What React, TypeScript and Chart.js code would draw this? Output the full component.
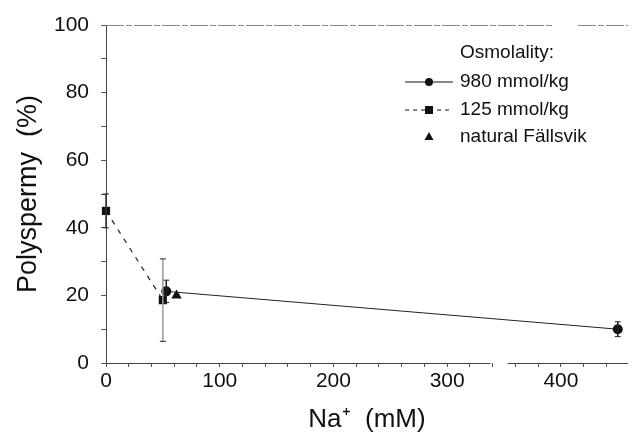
import React, { useEffect, useRef } from "react";
import { Chart, registerables } from "chart.js";

Chart.register(...registerables);

// Data
const naHigh = [53, 450];
const polyHigh = [21.2, 10];
const errHigh = [3.3, 2.2];

const naLow = [0, 50];
const polyLow = [45, 18.6];
const errLow = [5, 12.2];

const naNatural = [62];
const polyNatural = [20];

const xTickLabels = [0, 100, 200, 300, 400];
const yTickLabels = [0, 20, 40, 60, 80, 100];

const legendTitle = "Osmolality:";
const legendLabels = ["980 mmol/kg", "125 mmol/kg", "natural Fällsvik"];

const FONT = "'Liberation Sans', Arial, Helvetica, sans-serif";

const errorBarPlugin = {
  id: "errorBars",
  afterDatasetsDraw(chart: any) {
    const { ctx, scales } = chart;
    const xs = scales.x;
    const ys = scales.y;
    chart.data.datasets.forEach((ds: any) => {
      if (!ds.errors) return;
      ds.data.forEach((p: any, i: number) => {
        const e = ds.errors[i];
        if (!e) return;
        const px = xs.getPixelForValue(p.x);
        const top = ys.getPixelForValue(p.y + e);
        const bot = ys.getPixelForValue(p.y - e);
        ctx.save();
        ctx.strokeStyle = ds.errorColor ? ds.errorColor[i] : "#222";
        ctx.lineWidth = 1.5;
        ctx.beginPath();
        ctx.moveTo(px, top);
        ctx.lineTo(px, bot);
        ctx.stroke();
        ctx.strokeStyle = "#222";
        ctx.lineWidth = 1;
        ctx.beginPath();
        ctx.moveTo(px - 3, top);
        ctx.lineTo(px + 3, top);
        ctx.moveTo(px - 3, bot);
        ctx.lineTo(px + 3, bot);
        ctx.stroke();
        ctx.restore();
      });
    });
  },
};

const framePlugin = {
  id: "frame",
  beforeDatasetsDraw(chart: any) {
    const { ctx, scales, chartArea } = chart;
    const xs = scales.x;
    const ys = scales.y;
    const yAxis = ys.getPixelForValue(0);
    const yTop = ys.getPixelForValue(100);
    ctx.save();
    // top line (y = 100)
    ctx.strokeStyle = "#8a8a8a";
    ctx.lineWidth = 1;
    ctx.setLineDash([18, 2, 6, 2]);
    ctx.beginPath();
    ctx.moveTo(chartArea.left, yTop + 0.5);
    ctx.lineTo(552, yTop + 0.5);
    ctx.moveTo(578, yTop + 0.5);
    ctx.lineTo(chartArea.right, yTop + 0.5);
    ctx.stroke();
    ctx.setLineDash([]);
    // x axis line with break
    ctx.strokeStyle = "#444";
    ctx.beginPath();
    ctx.moveTo(xs.getPixelForValue(0), yAxis + 0.5);
    ctx.lineTo(xs.getPixelForValue(338), yAxis + 0.5);
    ctx.moveTo(xs.getPixelForValue(353), yAxis + 0.5);
    ctx.lineTo(chartArea.right, yAxis + 0.5);
    ctx.stroke();
    ctx.restore();
  },
};

const legendPlugin = {
  id: "customLegend",
  afterDraw(chart: any) {
    const { ctx } = chart;
    ctx.save();
    ctx.fillStyle = "#111";
    ctx.font = `19px ${FONT}`;
    ctx.textBaseline = "middle";
    ctx.textAlign = "left";
    const tx = 460;
    const mx = 429;
    ctx.fillText(legendTitle, tx, 53);
    const rows = [82, 110, 137];
    legendLabels.forEach((l, i) => ctx.fillText(l, tx, rows[i]));
    ctx.strokeStyle = "#111";
    ctx.lineWidth = 1;
    // solid sample
    ctx.beginPath();
    ctx.moveTo(405, rows[0]);
    ctx.lineTo(453, rows[0]);
    ctx.stroke();
    ctx.beginPath();
    ctx.arc(mx, rows[0], 4, 0, Math.PI * 2);
    ctx.fill();
    // dashed sample
    ctx.setLineDash([4, 4]);
    ctx.beginPath();
    ctx.moveTo(405, rows[1]);
    ctx.lineTo(453, rows[1]);
    ctx.stroke();
    ctx.setLineDash([]);
    ctx.fillRect(mx - 4, rows[1] - 4, 8, 8);
    // triangle
    ctx.beginPath();
    ctx.moveTo(mx, rows[2] - 5);
    ctx.lineTo(mx + 4.5, rows[2] + 3);
    ctx.lineTo(mx - 4.5, rows[2] + 3);
    ctx.closePath();
    ctx.fill();
    ctx.restore();
  },
};

export default function App() {
  const ref = useRef<HTMLCanvasElement | null>(null);

  useEffect(() => {
    if (!ref.current) return;
    const toPts = (xs: number[], ys: number[]) => xs.map((x, i) => ({ x, y: ys[i] }));
    const chart = new Chart(ref.current, {
      type: "line",
      data: {
        datasets: [
          {
            label: legendLabels[0],
            data: toPts(naHigh, polyHigh),
            borderColor: "#222",
            backgroundColor: "#111",
            borderWidth: 1,
            pointStyle: "circle",
            pointRadius: 5,
            pointBorderWidth: 0,
            clip: false,
            errors: errHigh,
          } as any,
          {
            label: legendLabels[1],
            data: toPts(naLow, polyLow),
            borderColor: "#222",
            backgroundColor: "#111",
            borderWidth: 1.2,
            borderDash: [5, 6],
            pointStyle: "rect",
            pointRadius: 5.8,
            pointBorderWidth: 0,
            clip: false,
            errors: errLow,
            errorColor: ["#333", "#9a9a9a"],
          } as any,
          {
            label: legendLabels[2],
            data: toPts(naNatural, polyNatural),
            showLine: false,
            borderColor: "#111",
            backgroundColor: "#111",
            pointStyle: "triangle",
            pointRadius: 6,
            pointBorderWidth: 0,
            clip: false,
          } as any,
        ],
      },
      options: {
        responsive: false,
        animation: false,
        layout: { padding: { top: 25, right: 0, left: 0, bottom: 0 } },
        plugins: {
          legend: { display: false },
          tooltip: { enabled: false },
        },
        scales: {
          x: {
            type: "linear",
            min: 0,
            max: 459,
            afterFit: (s: any) => {
              s.height = 75;
            },
            border: { display: false },
            grid: {
              display: true,
              drawOnChartArea: false,
              drawTicks: true,
              tickLength: 4,
              color: "#555",
            },
            ticks: {
              stepSize: 20,
              includeBounds: false,
              autoSkip: false,
              maxRotation: 0,
              padding: 2,
              color: "#111",
              font: { family: FONT, size: 21 },
              callback: (v: any) => (xTickLabels.includes(v) ? String(v) : ""),
            },
            title: {
              display: true,
              text: "Na⁺  (mM)",
              color: "#111",
              font: { family: FONT, size: 26 },
              padding: { top: 0, bottom: 3 },
            },
          },
          y: {
            type: "linear",
            min: 0,
            max: 100,
            afterFit: (s: any) => {
              s.width = 106;
            },
            border: { display: true, color: "#444", width: 1 },
            grid: {
              display: true,
              drawOnChartArea: false,
              drawTicks: true,
              tickLength: 5,
              color: "#555",
            },
            ticks: {
              stepSize: 10,
              autoSkip: false,
              padding: 12,
              color: "#111",
              font: { family: FONT, size: 21 },
              callback: (v: any) => (yTickLabels.includes(v) ? String(v) : ""),
            },
            title: {
              display: true,
              text: "Polyspermy  (%)",
              color: "#111",
              font: { family: FONT, size: 27 },
              padding: { top: 12, bottom: 0 },
            },
          },
        },
      } as any,
      plugins: [framePlugin, errorBarPlugin, legendPlugin],
    });
    return () => chart.destroy();
  }, []);

  return (
    <div style={{ position: "absolute", left: 0, top: 0, width: 634, height: 438, background: "#fff" }}>
      <canvas ref={ref} width={634} height={438} />
    </div>
  );
}
